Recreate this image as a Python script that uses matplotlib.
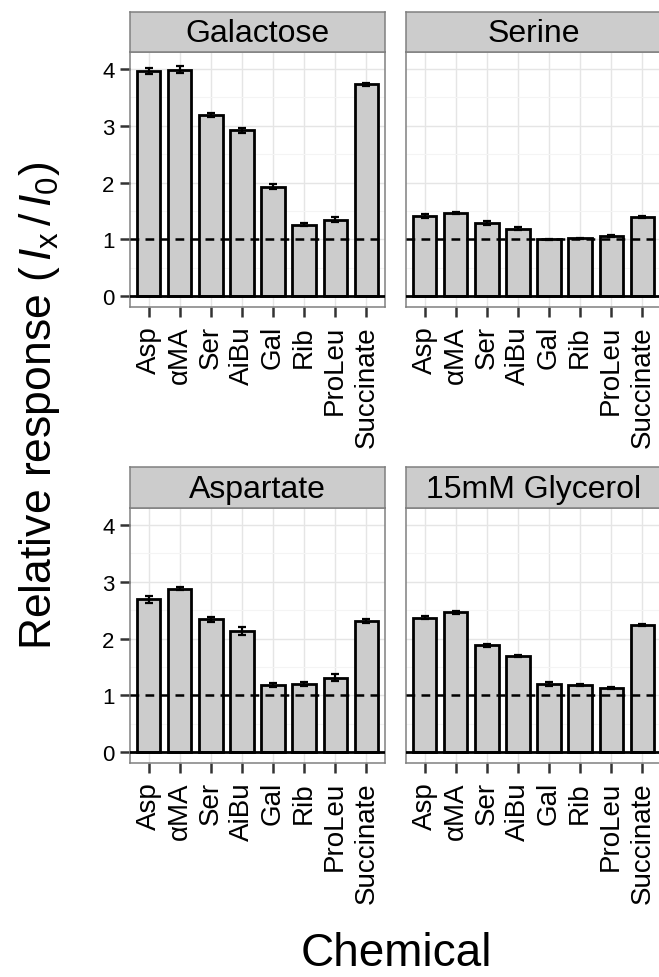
import numpy as np
import matplotlib
matplotlib.use('Agg')
import matplotlib.pyplot as plt
from matplotlib.ticker import MultipleLocator

plt.rcParams['font.family'] = ['Liberation Sans', 'DejaVu Sans']
plt.rcParams['mathtext.fontset'] = 'custom'
plt.rcParams['mathtext.rm'] = 'Liberation Sans'
plt.rcParams['mathtext.it'] = 'Liberation Sans:italic'

chemicals = ['Asp', 'αMA', 'Ser', 'AiBu', 'Gal', 'Rib', 'ProLeu', 'Succinate']
conditions = ['Galactose', 'Serine', 'Aspartate', '15mM Glycerol']

# mean relative response and error per condition
galactose_mean = [3.96, 3.99, 3.19, 2.92, 1.93, 1.26, 1.35, 3.73]
galactose_err = [0.05, 0.06, 0.04, 0.05, 0.05, 0.03, 0.05, 0.03]
serine_mean = [1.41, 1.46, 1.29, 1.19, 1.00, 1.02, 1.06, 1.40]
serine_err = [0.03, 0.02, 0.03, 0.02, 0.01, 0.01, 0.02, 0.02]
aspartate_mean = [2.69, 2.88, 2.34, 2.13, 1.18, 1.20, 1.31, 2.31]
aspartate_err = [0.06, 0.03, 0.04, 0.07, 0.03, 0.04, 0.06, 0.04]
glycerol_mean = [2.37, 2.46, 1.88, 1.69, 1.20, 1.18, 1.13, 2.24]
glycerol_err = [0.03, 0.03, 0.03, 0.02, 0.03, 0.02, 0.02, 0.02]

means = [galactose_mean, serine_mean, aspartate_mean, glycerol_mean]
errs = [galactose_err, serine_err, aspartate_err, glycerol_err]

W, H = 659, 978
fig = plt.figure(figsize=(W / 100, H / 100), dpi=100)

# panel boxes in pixels: (left, top, width, height), strip height
lefts = [130, 406]
tops = [53, 509]
pw, ph = 255, 255
strip_h = [40, 41]

x = np.arange(len(chemicals))
for k in range(4):
    r, c = divmod(k, 2)
    l, t = lefts[c], tops[r]
    ax = fig.add_axes([l / W, 1 - (t + ph) / H, pw / W, ph / H])
    ax.set_facecolor('white')
    ax.set_xlim(-0.6, 7.6)
    ax.set_ylim(-0.19, 4.30)

    ax.yaxis.set_major_locator(MultipleLocator(1))
    ax.yaxis.set_minor_locator(MultipleLocator(0.5))
    ax.grid(which='major', color='#E5E5E5', lw=1.0, zorder=0)
    ax.grid(which='minor', axis='y', color='#F4F4F4', lw=0.8, zorder=0)
    ax.set_axisbelow(True)

    ax.bar(x, means[k], width=0.75, color='#CCCCCC', edgecolor='black',
           linewidth=2.0, zorder=2)
    ax.errorbar(x, means[k], yerr=errs[k], fmt='none', ecolor='black',
                elinewidth=1.6, capsize=3, capthick=1.6, zorder=3)
    ax.axhline(1, color='black', lw=1.8, ls=(0, (3.5, 2.5)), zorder=4)
    ax.axhline(0, color='black', lw=2.0, zorder=4)

    for s in ax.spines.values():
        s.set_color('#808080')
        s.set_linewidth(1.1)

    ax.set_xticks(x)
    ax.set_xticklabels(chemicals, rotation=90, fontsize=20)
    ax.tick_params(axis='x', length=7, width=1.8, color='#333333', pad=6)
    ax.tick_params(axis='y', which='major', length=7, width=1.8,
                   color='#333333', labelsize=16, pad=4)
    ax.tick_params(axis='y', which='minor', length=0)
    if c == 1:
        ax.tick_params(axis='y', which='major', length=0, labelleft=False)

    # facet strip above the panel
    sh = strip_h[r]
    sax = fig.add_axes([l / W, 1 - t / H, pw / W, sh / H])
    sax.set_facecolor('#CCCCCC')
    sax.set_xticks([])
    sax.set_yticks([])
    for s in sax.spines.values():
        s.set_color('#808080')
        s.set_linewidth(1.1)
    sax.text(0.5, 0.47, conditions[k], ha='center', va='center',
             fontsize=23, transform=sax.transAxes)

fig.text(40 / W, 1 - 406 / H,
         r'Relative response $(\,I_{\mathrm{x}}\,/\,I_{0})$',
         rotation=90, ha='center', va='center', fontsize=32)
fig.text(396 / W, 1 - 954 / H, 'Chemical', ha='center', va='center',
         fontsize=33)

plt.savefig('out.png', dpi=100)
